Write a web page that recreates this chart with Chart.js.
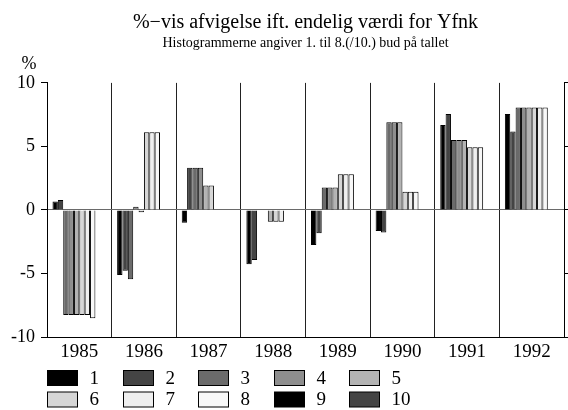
<!DOCTYPE html>
<html>
<head>
<meta charset="utf-8">
<script src="https://cdn.jsdelivr.net/npm/chart.js@4/dist/chart.umd.min.js"></script>
<style>
	body { margin: 0; background: #fff; }
	canvas { display: block; }
</style>
</head>
<body>
<canvas id="chart" width="568" height="410"></canvas>
<script>
// Yfnk: afvigelse i procent for 1. til 10. bud, pr. år
var years = ["1985", "1986", "1987", "1988", "1989", "1990", "1991", "1992"];
var bud1 = [0.66, -5.12, -1.0, -4.28, -2.76, -1.65, 6.69, 7.56];
var bud2 = [0.79, -4.78, 3.33, -3.94, -1.84, -1.78, 7.56, 6.17];
var bud3 = [-8.27, -5.46, 3.33, 0, 1.76, 6.9, 5.51, 8.06];
var bud4 = [-8.27, 0.26, 3.33, 0, 1.76, 6.9, 5.51, 8.06];
var bud5 = [-8.27, -0.18, 1.92, -0.92, 1.76, 6.9, 5.51, 8.06];
var bud6 = [-8.27, 6.12, 1.92, -0.92, 2.81, 1.44, 4.93, 8.06];
var bud7 = [-8.27, 6.12, 0, -0.92, 2.81, 1.44, 4.93, 8.06];
var bud8 = [-8.53, 6.12, 0, 0, 2.81, 1.44, 4.93, 8.06];
var bud9 = [0, 0, 0, 0, 0, 0, 0, 0];
var bud10 = [0, 0, 0, 0, 0, 0, 0, 0];
var budLabels = ["1", "2", "3", "4", "5", "6", "7", "8", "9", "10"];
var budColors = ["#000000", "#444444", "#6b6b6b", "#8e8e8e", "#b3b3b3",
	"#d6d6d6", "#efefef", "#f8f8f8", "#000000", "#444444"];
var yTicks = [-10, -5, 0, 5, 10];

var FONT = "'Liberation Serif', 'Times New Roman', serif";

var series = [bud1, bud2, bud3, bud4, bud5, bud6, bud7, bud8, bud9, bud10];
var datasets = [];
for (var i = 0; i < series.length; i++) {
	datasets.push({
		label: budLabels[i],
		data: series[i],
		backgroundColor: budColors[i],
		borderColor: "#000",
		borderWidth: 1,
		categoryPercentage: 0.83,
		barPercentage: 1.0
	});
}

// legend in two rows of five, plus the "%" unit over the y axis
var extrasPlugin = {
	id: "extras",
	afterDraw: function (chart) {
		var ctx = chart.ctx;
		ctx.save();
		ctx.fillStyle = "#000";
		ctx.font = "18px " + FONT;
		ctx.textAlign = "center";
		ctx.textBaseline = "middle";
		ctx.fillText("%", 29, 64);

		ctx.font = "19px " + FONT;
		ctx.textAlign = "left";
		var ds = chart.data.datasets;
		for (var i = 0; i < ds.length; i++) {
			var col = i % 5, row = Math.floor(i / 5);
			var x = 47.5 + Math.round(col * 75.5), y = 370.5 + row * 21.5;
			ctx.fillStyle = ds[i].backgroundColor;
			ctx.fillRect(x, y, 30, 15);
			ctx.strokeStyle = "#000";
			ctx.lineWidth = 1;
			ctx.strokeRect(x, y, 30, 15);
			ctx.fillStyle = "#000";
			ctx.fillText(ds[i].label, x + 42, y + 8.5);
		}
		ctx.restore();
	}
};

var chart = new Chart(document.getElementById("chart").getContext("2d"), {
	type: "bar",
	data: { labels: years, datasets: datasets },
	plugins: [extrasPlugin],
	options: {
		responsive: false,
		animation: false,
		layout: { padding: 0 },
		plugins: {
			legend: { display: false },
			tooltip: { enabled: false },
			title: {
				display: true,
				fullSize: false,
				text: "%\u2212vis afvigelse ift. endelig værdi for Yfnk",
				color: "#000",
				font: { family: FONT, size: 20, weight: "normal" },
				padding: { top: 10.5, bottom: 0 }
			},
			subtitle: {
				display: true,
				fullSize: false,
				text: "Histogrammerne angiver 1. til 8.(/10.) bud på tallet",
				color: "#000",
				font: { family: FONT, size: 14, weight: "normal" },
				padding: { top: 0, bottom: 31.6 }
			}
		},
		scales: {
			x: {
				grid: { offset: true, color: "#222", drawTicks: false },
				border: { color: "#000", width: 1 },
				ticks: {
					color: "#000", maxRotation: 0, padding: 4,
					font: { family: FONT, size: 19 }
				},
				afterFit: function (scale) { scale.height = 73; }
			},
			y: {
				position: "left",
				min: -10, max: 10,
				afterBuildTicks: function (scale) {
					scale.ticks = yTicks.map(function (v) { return { value: v }; });
				},
				grid: {
					color: function (c) { return c.tick && c.tick.value === 0 ? "#6a6a6a" : "rgba(0,0,0,0)"; },
					tickColor: "#000",
					tickLength: 6
				},
				border: { color: "#000", width: 1 },
				ticks: {
					color: "#000", padding: 6,
					font: { family: FONT, size: 18 },
					callback: function (v) { return String(v); }
				},
				afterFit: function (scale) { scale.width = 47; }
			},
			y2: {
				position: "right",
				min: -10, max: 10,
				afterBuildTicks: function (scale) {
					scale.ticks = yTicks.map(function (v) { return { value: v }; });
				},
				grid: { drawOnChartArea: false, tickColor: "#000", tickLength: 5 },
				border: { color: "#000", width: 1 },
				ticks: { display: false },
				afterFit: function (scale) { scale.width = 4; }
			}
		}
	}
});
</script>
</body>
</html>
